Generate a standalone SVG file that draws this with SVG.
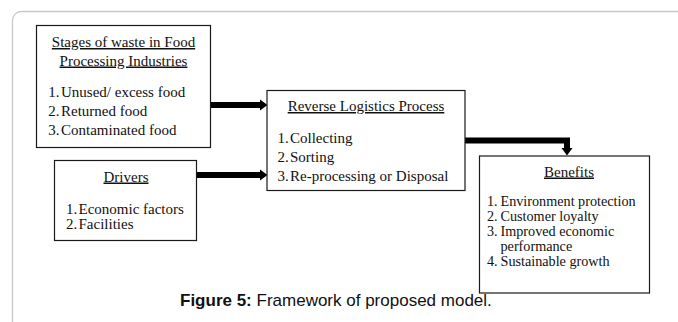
<svg xmlns="http://www.w3.org/2000/svg" width="678" height="322" viewBox="0 0 678 322">
<style>
.box{fill:#fff;stroke:#1a1a1a;stroke-width:1.2}
.t{font-family:"Liberation Serif","Times New Roman",serif;font-size:15px;fill:#111}
.s{font-size:14.2px}
.h{text-anchor:middle;text-decoration:underline}
.conn{fill:none;stroke:#000;stroke-width:6}
.cap{font-family:"Liberation Sans",Arial,sans-serif;font-size:17px;fill:#111}
</style>
<defs>
<marker id="ah" markerUnits="userSpaceOnUse" markerWidth="9" markerHeight="12" refX="0" refY="6" orient="auto">
<path d="M0,0.5 L7.5,6 L0,11.5 Z" fill="#000"/>
</marker>
</defs>
<rect x="12.5" y="11.5" width="720" height="400" rx="9" fill="#fff" stroke="#c8c8c8" stroke-width="1.3"/>
<g id="connectors">
<path class="conn" d="M211,105 H260" marker-end="url(#ah)"/>
<path class="conn" d="M197,175 H260" marker-end="url(#ah)"/>
<path class="conn" d="M465,140.5 H567 V148" marker-end="url(#ah)"/>
</g>
<g id="stages">
<rect class="box" x="36.5" y="25.5" width="174" height="122"/>
<text class="t h" x="123.5" y="47">Stages of waste in Food</text>
<text class="t h" x="123.5" y="65.5">Processing Industries</text>
<text class="t"><tspan x="48.3" y="97">1.</tspan><tspan x="61" y="97">Unused/ excess food</tspan></text>
<text class="t"><tspan x="48.3" y="116">2.</tspan><tspan x="61" y="116">Returned food</tspan></text>
<text class="t"><tspan x="48.3" y="135">3.</tspan><tspan x="61" y="135">Contaminated food</tspan></text>
</g>
<g id="drivers">
<rect class="box" x="54.5" y="160.5" width="142" height="80"/>
<text class="t h" x="126" y="181.5">Drivers</text>
<text class="t"><tspan x="66" y="213.5">1.</tspan><tspan x="78.5" y="213.5">Economic factors</tspan></text>
<text class="t"><tspan x="66" y="229">2.</tspan><tspan x="78.5" y="229">Facilities</tspan></text>
</g>
<g id="rlp">
<rect class="box" x="267" y="90.5" width="198" height="100"/>
<text class="t h" x="366" y="111">Reverse Logistics Process</text>
<text class="t"><tspan x="277.5" y="143">1.</tspan><tspan x="290" y="143">Collecting</tspan></text>
<text class="t"><tspan x="277.5" y="162">2.</tspan><tspan x="290" y="162">Sorting</tspan></text>
<text class="t"><tspan x="277.5" y="181">3.</tspan><tspan x="290" y="181">Re-processing or Disposal</tspan></text>
</g>
<g id="benefits">
<rect class="box" x="479.5" y="156" width="170" height="137"/>
<text class="t h" x="569" y="176.5">Benefits</text>
<text class="t s"><tspan x="487" y="206">1.</tspan><tspan x="500.5" y="206">Environment protection</tspan></text>
<text class="t s"><tspan x="487" y="221">2.</tspan><tspan x="500.5" y="221">Customer loyalty</tspan></text>
<text class="t s"><tspan x="487" y="236">3.</tspan><tspan x="500.5" y="236">Improved economic</tspan></text>
<text class="t s" x="500.5" y="251">performance</text>
<text class="t s"><tspan x="487" y="266">4.</tspan><tspan x="500.5" y="266">Sustainable growth</tspan></text>
</g>
<text class="cap" x="180" y="306"><tspan font-weight="bold">Figure 5:</tspan> Framework of proposed model.</text>
</svg>
